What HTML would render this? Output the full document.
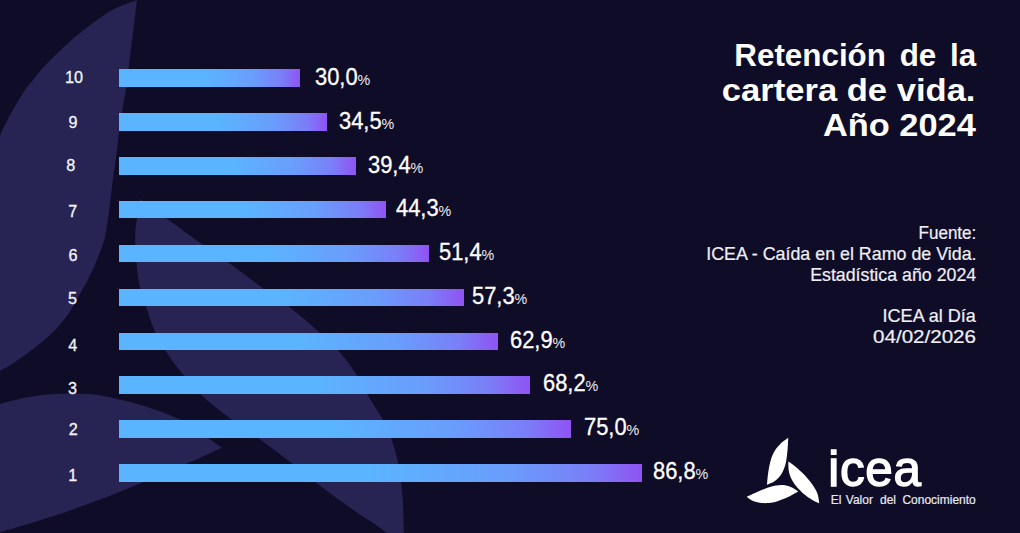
<!DOCTYPE html>
<html lang="es"><head><meta charset="utf-8"><title>Retención de la cartera de vida. Año 2024</title>
<style>
html,body{margin:0;padding:0}
body{width:1020px;height:533px;overflow:hidden;background:#0f0c27;position:relative;font-family:"Liberation Sans",sans-serif;color:#fff}
#bg{position:absolute;left:0;top:0}
.lab{position:absolute;left:43px;width:60px;text-align:center;font-size:16.2px;line-height:17.9px;color:#f4f4f8;-webkit-text-stroke:.3px #f4f4f8}
.bar{position:absolute;left:118.6px;height:17.9px;background:linear-gradient(to right,#5bb4ff 0%,#5bb4ff 48%,#699dfc 74%,#7a7ef7 90%,#9053f3 100%)}
.val{position:absolute;font-size:23px;line-height:17.9px;white-space:nowrap;color:#fff;-webkit-text-stroke:.3px #fff;transform:scaleX(.952);transform-origin:0 50%}
.val span{font-size:15px;-webkit-text-stroke:0;color:#ececf3}
.title{position:absolute;right:44.4px;top:0;font-weight:bold;font-size:31px;line-height:35px;white-space:nowrap}
.title div{position:absolute;right:0;transform-origin:100% 50%}
.src{position:absolute;right:43.8px;top:0;font-size:17.8px;line-height:20.8px;white-space:nowrap;color:#efeff5;-webkit-text-stroke:.2px #efeff5}
.src div{position:absolute;right:0;transform-origin:100% 50%}
.icea{position:absolute;left:828.3px;top:442.7px;font-size:49.4px;line-height:52px;letter-spacing:.7px;-webkit-text-stroke:1.4px #fff;white-space:nowrap}
.tag{position:absolute;left:830.8px;top:491.8px;font-size:12px;line-height:16px;white-space:nowrap;color:#e9e9f1;word-spacing:1px;transform:scaleY(1.05);transform-origin:0 80%;-webkit-text-stroke:.2px #e9e9f1}
</style></head><body>
<svg id="bg" width="1020" height="533" viewBox="0 0 1020 533">
<g fill="#272353">
<path d="M136.9,0.0 C136.0,7.8 133.1,32.5 131.3,47.0 C129.5,61.5 127.8,76.7 126.3,87.0 C124.8,97.3 123.9,100.8 122.6,109.0 C121.3,117.2 119.6,128.5 118.6,136.0 C117.6,143.5 117.5,146.4 116.5,154.0 C115.5,161.6 114.0,171.7 112.7,181.5 C111.4,191.3 110.0,204.2 108.8,213.0 C107.6,221.8 106.6,228.5 105.6,234.0 C104.5,239.5 104.1,241.2 102.5,245.8 C100.9,250.4 98.4,256.2 96.2,261.5 C94.0,266.8 91.7,272.1 89.1,277.3 C86.5,282.6 83.8,287.1 80.4,293.0 C77.1,298.9 73.3,306.7 69.0,313.0 C64.7,319.3 60.0,325.0 54.4,330.7 C48.8,336.4 42.2,342.0 35.5,347.3 C28.8,352.6 20.1,358.8 14.2,362.7 C8.3,366.6 5.7,367.7 0.0,370.9 C-5.7,374.1 -16.7,380.1 -20.0,382.0 L-15,175 C-12.5,168.5 -3.8,145.3 0.0,136.0 C3.8,126.7 4.0,126.2 7.9,118.9 C11.8,111.6 19.8,98.2 23.7,92.0 C27.6,85.8 28.6,85.7 31.5,82.0 C34.4,78.3 37.0,74.5 41.0,70.0 C45.0,65.5 48.9,61.2 55.2,55.2 C61.5,49.2 69.7,41.3 78.9,33.9 C88.1,26.5 100.7,16.6 110.4,11.0 C120.1,5.4 132.5,1.8 136.9,0.0 Z"/>
<path d="M140.3,198.9 C144.8,202.2 156.9,211.4 167.2,218.9 C177.5,226.4 191.8,236.9 201.9,244.1 C212.1,251.3 218.0,255.0 228.1,262.3 C238.2,269.6 252.4,280.7 262.6,288.1 C272.8,295.5 279.8,299.5 289.2,306.8 C298.6,314.1 310.8,324.6 319.1,332.0 C327.4,339.4 332.4,343.6 338.8,351.0 C345.2,358.4 352.8,368.7 357.8,376.4 C362.8,384.1 364.9,389.9 369.0,397.0 C373.1,404.1 378.7,412.1 382.3,418.8 C385.9,425.5 388.3,430.0 390.9,437.4 C393.5,444.8 396.2,453.7 398.1,463.3 C400.0,472.9 401.4,483.2 402.4,494.8 C403.4,506.4 403.6,523.5 403.9,533.0 C404.2,542.5 404.0,548.8 404.0,552.0 C400.6,548.5 392.3,537.8 383.7,530.7 C375.1,523.6 362.7,516.6 352.2,509.2 C341.7,501.8 330.7,493.8 320.6,486.2 C310.6,478.6 302.4,471.4 291.9,463.3 C281.4,455.2 267.8,444.9 257.4,437.4 C247.0,429.8 238.6,424.8 229.5,418.0 C220.4,411.2 210.9,403.9 203.0,396.5 C195.1,389.1 188.3,380.9 182.1,373.3 C175.8,365.7 170.2,358.3 165.5,350.8 C160.8,343.3 156.8,335.4 153.7,328.4 C150.6,321.4 149.2,316.2 146.8,309.0 C144.4,301.8 141.2,293.1 139.5,285.2 C137.8,277.3 137.1,270.4 136.4,261.5 C135.7,252.6 134.7,242.4 135.3,232.0 C136.0,221.6 139.5,204.4 140.3,198.9 Z"/>
<path d="M-10.0,407.0 C-8.3,406.5 -5.6,405.5 0.0,404.0 C5.6,402.5 15.7,399.7 23.6,398.1 C31.5,396.5 39.4,395.4 47.3,394.6 C55.2,393.8 63.0,393.4 70.9,393.4 C78.8,393.4 86.7,393.6 94.6,394.6 C102.5,395.6 110.3,397.5 118.2,399.3 C126.1,401.1 134.0,402.8 141.9,405.2 C149.8,407.6 158.0,410.5 165.5,413.5 C173.0,416.5 180.9,419.8 186.8,423.0 C192.7,426.2 195.2,428.9 201.0,433.0 C206.8,437.1 218.3,445.2 221.8,447.7 C216.4,450.2 202.5,456.8 189.2,462.6 C175.9,468.4 157.7,476.2 141.9,482.7 C126.1,489.2 110.4,495.7 94.6,501.6 C78.8,507.5 63.1,513.0 47.3,518.1 C31.5,523.2 9.5,529.5 0.0,532.3 C-9.5,535.1 -8.3,534.5 -10.0,535.0 Z"/>
</g>
<g fill="#fff" transform="translate(740,430) scale(0.15)">
<path d="M322.0,52.0 C313.3,58.7 286.2,75.7 270.0,92.0 C253.8,108.3 236.7,128.7 225.0,150.0 C213.3,171.3 206.5,195.0 200.0,220.0 C193.5,245.0 189.3,275.8 186.0,300.0 C182.7,324.2 181.0,354.2 180.0,365.0 C188.3,361.2 214.7,352.8 230.0,342.0 C245.3,331.2 260.3,317.0 272.0,300.0 C283.7,283.0 293.3,260.0 300.0,240.0 C306.7,220.0 309.0,200.0 312.0,180.0 C315.0,160.0 316.3,141.3 318.0,120.0 C319.7,98.7 321.3,63.3 322.0,52.0 Z"/>
<path d="M322.0,210.0 C330.0,215.8 352.0,230.0 370.0,245.0 C388.0,260.0 411.7,280.8 430.0,300.0 C448.3,319.2 465.8,340.0 480.0,360.0 C494.2,380.0 506.8,398.3 515.0,420.0 C523.2,441.7 526.7,478.3 529.0,490.0 C520.8,485.8 496.5,475.0 480.0,465.0 C463.5,455.0 447.5,445.0 430.0,430.0 C412.5,415.0 390.0,393.3 375.0,375.0 C360.0,356.7 348.3,337.5 340.0,320.0 C331.7,302.5 328.0,288.3 325.0,270.0 C322.0,251.7 322.5,220.0 322.0,210.0 Z"/>
<path d="M45.0,445.0 C54.2,440.8 79.2,429.2 100.0,420.0 C120.8,410.8 146.7,398.3 170.0,390.0 C193.3,381.7 218.3,373.7 240.0,370.0 C261.7,366.3 281.7,365.5 300.0,368.0 C318.3,370.5 335.3,378.0 350.0,385.0 C364.7,392.0 381.7,405.8 388.0,410.0 C376.7,416.2 343.0,436.2 320.0,447.0 C297.0,457.8 271.7,468.3 250.0,475.0 C228.3,481.7 210.0,485.3 190.0,487.0 C170.0,488.7 148.3,487.8 130.0,485.0 C111.7,482.2 94.2,476.7 80.0,470.0 C65.8,463.3 50.8,449.2 45.0,445.0 Z"/>
</g>
</svg>
<div class="lab" style="top:69.0px;left:44.0px">10</div>
<div class="bar" style="top:68.8px;width:181.4px"></div>
<div class="val" style="top:69.2px;left:315.3px">30,0<span>%</span></div>
<div class="lab" style="top:113.6px;left:42.9px">9</div>
<div class="bar" style="top:112.7px;width:208.5px"></div>
<div class="val" style="top:113.0px;left:339.4px">34,5<span>%</span></div>
<div class="lab" style="top:156.5px;left:40.8px">8</div>
<div class="bar" style="top:156.7px;width:237.3px"></div>
<div class="val" style="top:156.7px;left:367.7px">39,4<span>%</span></div>
<div class="lab" style="top:202.5px;left:42.7px">7</div>
<div class="bar" style="top:200.6px;width:267.3px"></div>
<div class="val" style="top:200.4px;left:396.0px">44,3<span>%</span></div>
<div class="lab" style="top:247.0px;left:42.9px">6</div>
<div class="bar" style="top:244.6px;width:310.2px"></div>
<div class="val" style="top:244.1px;left:438.9px">51,4<span>%</span></div>
<div class="lab" style="top:290.4px;left:42.5px">5</div>
<div class="bar" style="top:288.5px;width:345.3px"></div>
<div class="val" style="top:287.9px;left:472.2px">57,3<span>%</span></div>
<div class="lab" style="top:337.4px;left:42.8px">4</div>
<div class="bar" style="top:332.5px;width:379.3px"></div>
<div class="val" style="top:331.6px;left:510.3px">62,9<span>%</span></div>
<div class="lab" style="top:379.6px;left:42.5px">3</div>
<div class="bar" style="top:376.4px;width:411.4px"></div>
<div class="val" style="top:375.3px;left:542.9px">68,2<span>%</span></div>
<div class="lab" style="top:421.4px;left:43.2px">2</div>
<div class="bar" style="top:420.4px;width:452.4px"></div>
<div class="val" style="top:419.0px;left:583.6px">75,0<span>%</span></div>
<div class="lab" style="top:466.6px;left:42.8px">1</div>
<div class="bar" style="top:464.3px;width:523.1px"></div>
<div class="val" style="top:462.7px;left:653.1px">86,8<span>%</span></div>
<div class="title"><div style="top:37.7px;transform:scaleX(1.011);word-spacing:5px">Retención de la</div><div style="top:72.5px;transform:scaleX(1.115)">cartera de vida.</div><div style="top:107.7px;transform:scaleX(1.109)">Año 2024</div></div>
<div class="src"><div style="top:223px;transform:scaleX(0.958)">Fuente:</div><div style="top:243.8px;transform:scaleX(1.003)">ICEA - Caída en el Ramo de Vida.</div><div style="top:264.6px;transform:scaleX(1.0)">Estadística año 2024</div><div style="top:306.2px;transform:scaleX(1.016)">ICEA al Día</div><div style="top:327px;transform:scaleX(1.157)">04/02/2026</div></div>
<div class="icea">icea</div>
<div class="tag">El Valor <span style="margin-left:2.7px">del</span> <span style="margin-left:2.1px">Conocimiento</span></div>
</body></html>
